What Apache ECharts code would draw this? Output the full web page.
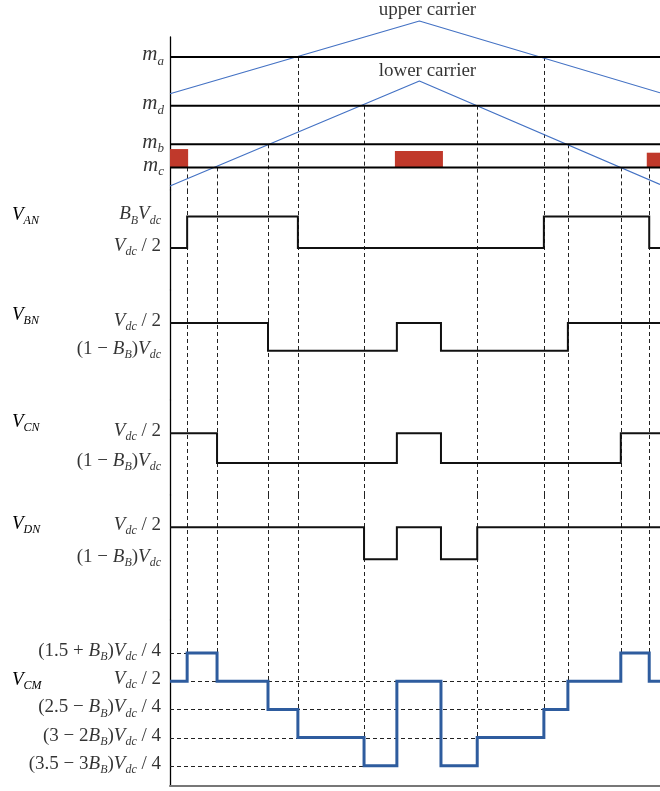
<!DOCTYPE html>
<html>
<head>
<meta charset="utf-8">
<script src="https://cdn.jsdelivr.net/npm/echarts@6/dist/echarts.min.js"></script>
<style>html,body{margin:0;padding:0;background:#fff}#c{width:660px;height:791px}</style>
</head>
<body>
<div id="c"></div>
<script>
// ---------------- DATA (time in % of the shown interval, levels in units of Vdc, B_B = 0.8) ----------------
const carrierPeakT = 50.9;
const upperCarrierT = [0, 50.9, 100];
const upperCarrierV = [0.559, 1.0, 0.565];
const lowerCarrierT = [0, 50.9, 100];
const lowerCarrierV = [0.0, 0.636, 0.010];
const modNames = ['a', 'd', 'b', 'c'];
const modValues = [0.782, 0.487, 0.253, 0.113];
const redBarStart = [0, 45.9, 97.3];
const redBarEnd = [3.7, 55.7, 100];
const redBarTop = [0.224, 0.212, 0.202];

const vanT = [0, 3.5, 26.1, 76.3, 97.8, 100];
const vanV = [0.5, 0.8, 0.5, 0.8, 0.5, 0.5];
const vbnT = [0, 20.0, 46.3, 55.3, 81.2, 100];
const vbnV = [0.5, 0.2, 0.5, 0.2, 0.5, 0.5];
const vcnT = [0, 9.6, 46.3, 55.3, 92.0, 100];
const vcnV = [0.5, 0.2, 0.5, 0.2, 0.5, 0.5];
const vdnT = [0, 39.6, 46.3, 55.3, 62.7, 100];
const vdnV = [0.5, 0.2, 0.5, 0.2, 0.5, 0.5];
const vcmT = [0, 3.5, 9.6, 20.0, 26.1, 39.6, 46.3, 55.3, 62.7, 76.3, 81.2, 92.0, 97.8, 100];
const vcmV = [0.5, 0.575, 0.5, 0.425, 0.35, 0.275, 0.5, 0.275, 0.35, 0.425, 0.5, 0.575, 0.5, 0.5];

const switchTimes = [3.5, 9.6, 20.0, 26.1, 39.6, 62.7, 76.3, 81.2, 92.0, 97.8];
const switchFrom = ['c', 'c', 'b', 'a', 'd', 'd', 'a', 'b', 'c', 'c'];
const switchCMEnd = [0.575, 0.575, 0.5, 0.425, 0.35, 0.35, 0.425, 0.5, 0.575, 0.575];

const cmRefLevels = [0.575, 0.5, 0.425, 0.35, 0.275];
const cmRefEnd = [3.5, 81.2, 76.3, 62.7, 46.3];

const phaseNames = ['AN', 'BN', 'CN', 'DN', 'CM'];
const vanLabels = [[0.8, 'BBVdc'], [0.5, 'half']];
const vbnLabels = [[0.5, 'half'], [0.2, 'oneMinus']];
const vcnLabels = [[0.5, 'half'], [0.2, 'oneMinus']];
const vdnLabels = [[0.5, 'half'], [0.2, 'oneMinus']];
const vcmLabels = [[0.575, 'cm1'], [0.5, 'half'], [0.425, 'cm3'], [0.35, 'cm4'], [0.275, 'cm5']];

// ---------------- STYLE / LAYOUT ----------------
const serif = "'Liberation Serif','DejaVu Serif',serif";
const ink = '#000';
const rich = {
  i: {fontFamily: serif, fontStyle: 'italic', fontSize: 19, lineHeight: 24, color: ink},
  n: {fontFamily: serif, fontSize: 19, lineHeight: 24, color: ink},
  s: {fontFamily: serif, fontStyle: 'italic', fontSize: 12, lineHeight: 12, verticalAlign: 'bottom', color: ink},
  m: {fontFamily: serif, fontStyle: 'italic', fontSize: 21, lineHeight: 26, color: ink},
  ms: {fontFamily: serif, fontStyle: 'italic', fontSize: 13, lineHeight: 13, verticalAlign: 'bottom', color: ink}
};
const labelText = {
  BBVdc: '{i|B}{s|B}{i|V}{s|dc}',
  half: '{i|V}{s|dc}{n| / 2}',
  oneMinus: '{n|(1 − }{i|B}{s|B}{n|)}{i|V}{s|dc}',
  cm1: '{n|(1.5 + }{i|B}{s|B}{n|)}{i|V}{s|dc}{n| / 4}',
  cm3: '{n|(2.5 − }{i|B}{s|B}{n|)}{i|V}{s|dc}{n| / 4}',
  cm4: '{n|(3 − 2}{i|B}{s|B}{n|)}{i|V}{s|dc}{n| / 4}',
  cm5: '{n|(3.5 − 3}{i|B}{s|B}{n|)}{i|V}{s|dc}{n| / 4}'
};

const grids = [
  {top: 37, height: 153, min: -0.024, max: 0.903},
  {top: 190, height: 100, min: 0.1, max: 1.052},
  {top: 290, height: 110, min: -0.334, max: 0.8575},
  {top: 400, height: 95, min: -0.123, max: 0.836},
  {top: 495, height: 125, min: -0.369, max: 0.803},
  {top: 620, height: 166, min: 0.221, max: 0.663}
];
const nameY = [218, 318, 425, 527, 683];

const zip = (a, b) => a.map((v, i) => [v, b[i]]);
const modOf = k => modValues[modNames.indexOf(k)];

function segRender(params, api) {
  const p1 = api.coord([api.value(0), api.value(1)]);
  const p2 = api.coord([api.value(2), api.value(3)]);
  let x1 = p1[0], x2 = p2[0], y1 = p1[1], y2 = p2[1];
  if (x1 === x2) { x1 = x2 = Math.round(x1) + 0.5; }
  if (y1 === y2) { y1 = y2 = Math.round(y1) + 0.5; }
  return {type: 'line', shape: {x1, y1, x2, y2},
    style: {stroke: '#222', lineWidth: 1, lineDash: [4, 3]}};
}
function dashSeries(gi, data) {
  return {type: 'custom', xAxisIndex: gi, yAxisIndex: gi, renderItem: segRender,
    encode: {x: [0, 2], y: [1, 3]}, data, z: 1, silent: true, clip: false};
}
function stepSeries(gi, data, color, width) {
  return {type: 'line', xAxisIndex: gi, yAxisIndex: gi, step: 'end', data, symbol: 'none',
    lineStyle: {color, width, join: 'miter'}, z: 3, silent: true, clip: false};
}
function labelSeries(gi, items) {
  return {type: 'scatter', xAxisIndex: gi, yAxisIndex: gi, symbolSize: 0, silent: true, clip: false,
    data: items.map(it => [0, it[0], it[1]]),
    label: {show: true, position: 'left', distance: 9, offset: [0, -2], color: ink,
      formatter: p => labelText[p.data[2]], rich}};
}

const series = [];
// carriers
series.push({type: 'line', xAxisIndex: 0, yAxisIndex: 0, data: zip(upperCarrierT, upperCarrierV), symbol: 'none',
  lineStyle: {color: '#4472C4', width: 1.2}, z: 2, clip: false, silent: true});
series.push({type: 'line', xAxisIndex: 0, yAxisIndex: 0, data: zip(lowerCarrierT, lowerCarrierV), symbol: 'none',
  lineStyle: {color: '#4472C4', width: 1.2}, z: 2, clip: false, silent: true});
series.push({type: 'scatter', xAxisIndex: 0, yAxisIndex: 0, symbolSize: 0, clip: false, silent: true,
  data: [[carrierPeakT, upperCarrierV[1], 'upper carrier'], [carrierPeakT, lowerCarrierV[1], 'lower carrier']],
  label: {show: true, position: 'top', distance: 1, offset: [8, 0], formatter: p => p.data[2],
    fontFamily: serif, fontSize: 19, color: ink}});
// modulation lines
modValues.forEach(m => series.push({type: 'line', xAxisIndex: 0, yAxisIndex: 0, data: [[0, m], [100, m]], symbol: 'none',
  lineStyle: {color: '#000', width: 2}, z: 3, silent: true}));
series.push({type: 'scatter', xAxisIndex: 0, yAxisIndex: 0, symbolSize: 0, silent: true, clip: false,
  data: modNames.map((n, i) => [0, modValues[i], n]),
  label: {show: true, position: 'left', distance: 6, offset: [0, -2], color: ink,
    formatter: p => '{m|m}{ms|' + p.data[2] + '}', rich}});
// red bars
series.push({type: 'custom', xAxisIndex: 0, yAxisIndex: 0, silent: true, z: 2,
  data: redBarStart.map((s, i) => [s, redBarEnd[i], redBarTop[i]]),
  encode: {x: [0, 1], y: 2},
  renderItem: (params, api) => {
    const a = api.coord([api.value(0), api.value(2)]);
    const b = api.coord([api.value(1), modOf('c')]);
    return {type: 'rect', shape: {x: a[0], y: a[1], width: b[0] - a[0], height: b[1] - a[1]},
      style: {fill: '#C0392B'}};
  }});
// vertical dashed lines in carrier panel
series.push(dashSeries(0, switchTimes.map((t, i) => [t, modOf(switchFrom[i]), t, grids[0].min])));
// phase panels
const phases = [[vanT, vanV, vanLabels], [vbnT, vbnV, vbnLabels], [vcnT, vcnV, vcnLabels], [vdnT, vdnV, vdnLabels]];
phases.forEach((ph, k) => {
  const gi = k + 1;
  series.push(stepSeries(gi, zip(ph[0], ph[1]), '#111', 2));
  series.push(dashSeries(gi, switchTimes.map(t => [t, grids[gi].max, t, grids[gi].min])));
  series.push(labelSeries(gi, ph[2]));
});
// CM panel
series.push(stepSeries(5, zip(vcmT, vcmV), '#2E5C9E', 3));
series.push(dashSeries(5, switchTimes.map((t, i) => [t, grids[5].max, t, switchCMEnd[i]]).concat(
  cmRefLevels.map((l, i) => [0, l, cmRefEnd[i], l]))));
series.push(labelSeries(5, vcmLabels));

const option = {
  animation: false,
  backgroundColor: '#fff',
  grid: grids.map(g => ({left: 170, right: 0, top: g.top, height: g.height})),
  xAxis: grids.map((g, i) => ({gridIndex: i, type: 'value', min: 0, max: 100,
    show: i === 5, axisLine: {show: i === 5, onZero: false, lineStyle: {color: '#777', width: 2}},
    axisTick: {show: false}, axisLabel: {show: false}, splitLine: {show: false}})),
  yAxis: grids.map((g, i) => ({gridIndex: i, type: 'value', min: g.min, max: g.max,
    axisLine: {show: true, onZero: false, lineStyle: {color: '#000', width: 1.3}},
    axisTick: {show: false}, axisLabel: {show: false}, splitLine: {show: false}})),
  graphic: phaseNames.map((n, i) => ({type: 'text', left: 12, top: nameY[i] - 13, silent: true,
    style: {text: '{i|V}{s|' + n + '}', rich, fill: ink}})),
  series
};
echarts.init(document.getElementById('c')).setOption(option);
</script>
</body>
</html>
